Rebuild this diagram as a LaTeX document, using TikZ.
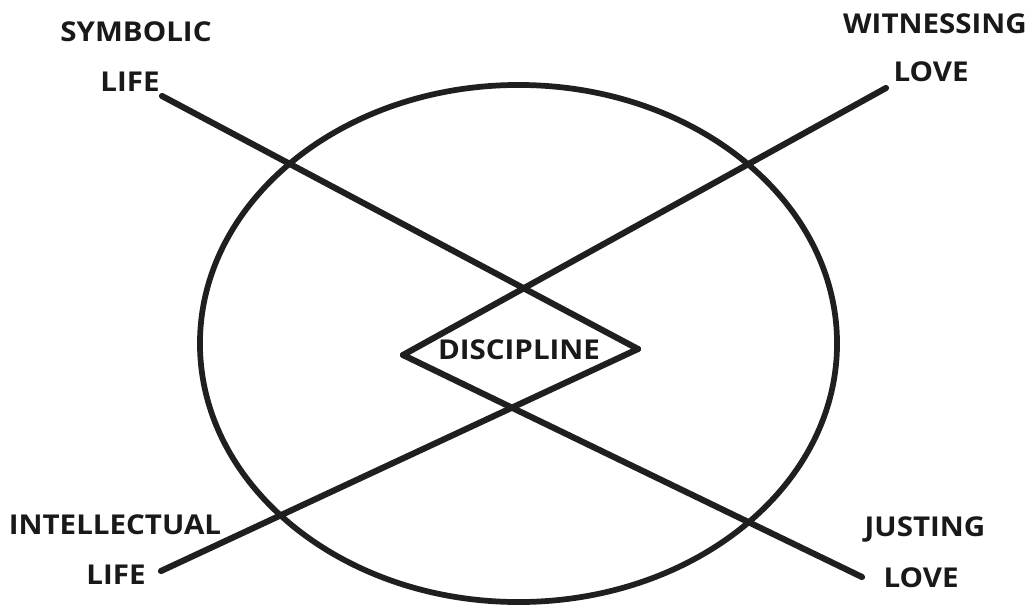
\documentclass[tikz,border=0pt]{standalone}
\usepackage{fontspec}
\setmainfont{Open Sans}[BoldFeatures={FakeStretch=1.08}]
\begin{document}
\begin{tikzpicture}[x=0.75pt,y=-0.75pt,
  lbl/.style={font=\fontsize{20.5}{24}\selectfont\bfseries, text=black!90, inner sep=0pt, anchor=center},
  bar/.style={line width=4.6pt, draw=black!88, line cap=round},
  ring/.style={line width=4.3pt, draw=black!88}]
\useasboundingbox[fill=white] (0,0) rectangle (1026,607);
% ring
\coordinate (c) at (518.5,343.5);
\draw[ring] (c) ellipse [x radius=238.9pt, y radius=193.9pt];
% diamond vertices and line ends
\coordinate (dl) at (403,355);
\coordinate (dr) at (638,349);
\coordinate (tl) at (162,96);
\coordinate (tr) at (886,88);
\coordinate (bl) at (161,571);
\coordinate (br) at (862,577);
\draw[bar] (tl) -- (dr);
\draw[bar] (tr) -- (dl);
\draw[bar] (bl) -- (dr);
\draw[bar] (br) -- (dl);
% labels
\node[lbl] (sym) at (136,32) {SYMBOLIC};
\node[lbl] (lifet) at (130,82) {LIFE};
\node[lbl] (wit) at (935,24) {WITNESSING};
\node[lbl] (lovet) at (931,72) {LOVE};
\node[lbl] (int) at (115,525) {INTELLECTUAL};
\node[lbl] (lifeb) at (116,575) {LIFE};
\node[lbl] (jus) at (925,529) {JUSTING};
\node[lbl] (loveb) at (921,578) {LOVE};
\node[lbl] (dis) at (519,350) {DISCIPLINE};
\end{tikzpicture}
\end{document}
